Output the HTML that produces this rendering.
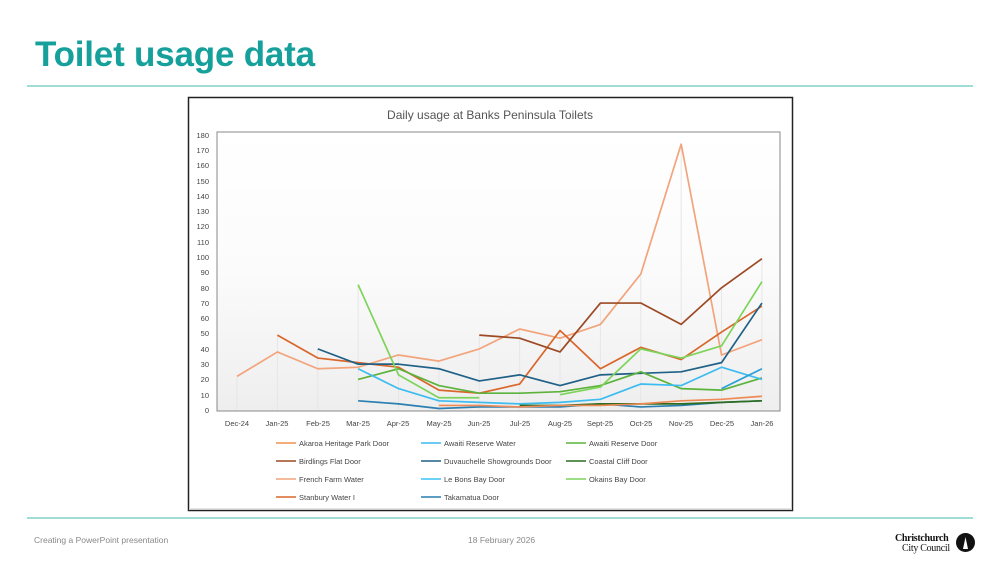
<!DOCTYPE html>
<html><head><meta charset="utf-8"><style>
body{margin:0;width:1003px;height:565px;background:#fff;font-family:"Liberation Sans",sans-serif;position:relative;overflow:hidden}
.t{position:absolute;left:35px;top:35px;font-size:35px;font-weight:bold;color:#16a09c;letter-spacing:-0.2px}
.hl{position:absolute;left:27px;width:946px;height:2px;background:#9fdcd6}
.f{position:absolute;top:535px;font-size:8.5px;color:#888}
</style></head><body>
<div class="t">Toilet usage data</div>
<div class="hl" style="top:85px"></div>
<div class="hl" style="top:517px"></div>
<div class="f" style="left:34px">Creating a PowerPoint presentation</div>
<div class="f" style="left:468px">18 February 2026</div>
<div style="position:absolute;left:895px;top:534px;font-family:'Liberation Serif',serif;font-size:10px;line-height:10px;color:#111;font-weight:bold;letter-spacing:-0.3px">Christchurch<br><span style="font-weight:normal;padding-left:7px">City Council</span></div>
<div style="position:absolute;left:956px;top:533px;width:19px;height:19px;border-radius:50%;background:#111"></div>
<svg width="1003" height="565" style="position:absolute;left:0;top:0" font-family="Liberation Sans, sans-serif">
<defs><linearGradient id="g" x1="0" y1="0" x2="0" y2="1"><stop offset="0" stop-color="#fff"/><stop offset="0.5" stop-color="#fbfbfb"/><stop offset="1" stop-color="#eeeeee"/></linearGradient></defs>
<rect x="188.5" y="97.5" width="604" height="413" fill="#fff" stroke="#222" stroke-width="1.5"/>
<text x="490" y="119" font-size="12" fill="#555" text-anchor="middle">Daily usage at Banks Peninsula Toilets</text>
<rect x="217" y="132" width="563" height="279" fill="url(#g)" stroke="#888" stroke-width="1"/>
<g font-size="7.5" fill="#444" text-anchor="end">
<text x="209" y="413">0</text><text x="209" y="398">10</text><text x="209" y="382">20</text><text x="209" y="367">30</text><text x="209" y="352">40</text><text x="209" y="336">50</text><text x="209" y="321">60</text><text x="209" y="306">70</text><text x="209" y="291">80</text><text x="209" y="275">90</text><text x="209" y="260">100</text><text x="209" y="245">110</text><text x="209" y="229">120</text><text x="209" y="214">130</text><text x="209" y="199">140</text><text x="209" y="184">150</text><text x="209" y="168">160</text><text x="209" y="153">170</text><text x="209" y="138">180</text>
</g>
<g font-size="7.5" fill="#444" text-anchor="middle">
<text x="237" y="426">Dec-24</text><text x="277" y="426">Jan-25</text><text x="318" y="426">Feb-25</text><text x="358" y="426">Mar-25</text><text x="398" y="426">Apr-25</text><text x="439" y="426">May-25</text><text x="479" y="426">Jun-25</text><text x="520" y="426">Jul-25</text><text x="560" y="426">Aug-25</text><text x="600" y="426">Sept-25</text><text x="641" y="426">Oct-25</text><text x="681" y="426">Nov-25</text><text x="722" y="426">Dec-25</text><text x="762" y="426">Jan-26</text>
</g>
<g transform="translate(237,410) scale(40.38,-1.528)" fill="none" stroke-width="1.7" stroke-linejoin="round">
<g stroke="#e6e6e6" stroke-width="1">
<path vector-effect="non-scaling-stroke" d="M0 0V22M1 0V49M2 0V40M3 0V82M4 0V36M5 0V32M6 0V49M7 0V53M8 0V52M9 0V70M10 0V89M11 0V174M12 0V80M13 0V99"/>
</g>
<polyline vector-effect="non-scaling-stroke" stroke="#f2a47c" points="0,22 1,38 2,27 3,28 4,36 5,32 6,40 7,53 8,47 9,56 10,89 11,174 12,36 13,46"/>
<polyline vector-effect="non-scaling-stroke" stroke="#d9662a" points="1,49 2,34 3,31 4,28 5,13 6,11 7,17 8,52 9,27 10,41 11,33 12,51 13,68"/>
<polyline vector-effect="non-scaling-stroke" stroke="#9c4a24" points="6,49 7,47 8,38 9,70 10,70 11,56 12,80 13,99"/>
<polyline vector-effect="non-scaling-stroke" stroke="#1f6187" points="2,40 3,30 4,30 5,27 6,19 7,23 8,16 9,23 10,24 11,25 12,31 13,70"/>
<polyline vector-effect="non-scaling-stroke" stroke="#5cb33c" points="3,20 4,27 5,16 6,11 7,11 8,12 9,16 10,25 11,14 12,13 13,21"/>
<polyline vector-effect="non-scaling-stroke" stroke="#7dd45a" points="3,82 4,23 5,8 6,8"/>
<polyline vector-effect="non-scaling-stroke" stroke="#7dd45a" points="8,10 9,15 10,40 11,34 12,42 13,84"/>
<polyline vector-effect="non-scaling-stroke" stroke="#3dbcf0" points="3,27 4,14 5,6 6,5 7,4 8,5 9,7 10,17 11,16 12,28 13,20"/>
<polyline vector-effect="non-scaling-stroke" stroke="#2a9fd8" points="12,14 13,27"/>
<polyline vector-effect="non-scaling-stroke" stroke="#2a7fb0" points="3,6 4,4 5,1 6,2 7,2 8,2 9,4 10,2 11,3 12,5 13,6"/>
<polyline vector-effect="non-scaling-stroke" stroke="#2e6b1f" points="7,3 8,3 9,4 10,4 11,4 12,5 13,6"/>
<polyline vector-effect="non-scaling-stroke" stroke="#ee8a55" points="5,3 6,3 7,2 8,3 9,3 10,4 11,6 12,7 13,9"/>
</g>
<g font-size="7.5" fill="#444" stroke-width="1.6">
<line x1="276" y1="443" x2="296" y2="443" stroke="#f2904f"/><text x="299" y="446">Akaroa Heritage Park Door</text>
<line x1="421" y1="443" x2="441" y2="443" stroke="#3dbcf0"/><text x="444" y="446">Awaiti Reserve Water</text>
<line x1="566" y1="443" x2="586" y2="443" stroke="#5cb33c"/><text x="589" y="446">Awaiti Reserve Door</text>
<line x1="276" y1="461" x2="296" y2="461" stroke="#9c4a24"/><text x="299" y="464">Birdlings Flat Door</text>
<line x1="421" y1="461" x2="441" y2="461" stroke="#1f6187"/><text x="444" y="464">Duvauchelle Showgrounds Door</text>
<line x1="566" y1="461" x2="586" y2="461" stroke="#2e6b1f"/><text x="589" y="464">Coastal Cliff Door</text>
<line x1="276" y1="479" x2="296" y2="479" stroke="#f2a47c"/><text x="299" y="482">French Farm Water</text>
<line x1="421" y1="479" x2="441" y2="479" stroke="#3dc4f5"/><text x="444" y="482">Le Bons Bay Door</text>
<line x1="566" y1="479" x2="586" y2="479" stroke="#7dd45a"/><text x="589" y="482">Okains Bay Door</text>
<line x1="276" y1="497" x2="296" y2="497" stroke="#d9662a"/><text x="299" y="500">Stanbury Water I</text>
<line x1="421" y1="497" x2="441" y2="497" stroke="#2a7fb0"/><text x="444" y="500">Takamatua Door</text>
</g>
<line x1="189" y1="509" x2="792" y2="509" stroke="#ddd" stroke-width="1.5"/>
<path d="M965.5 537 L963 549 L968 549 Z" fill="#fff"/>
</svg>
</body></html>
